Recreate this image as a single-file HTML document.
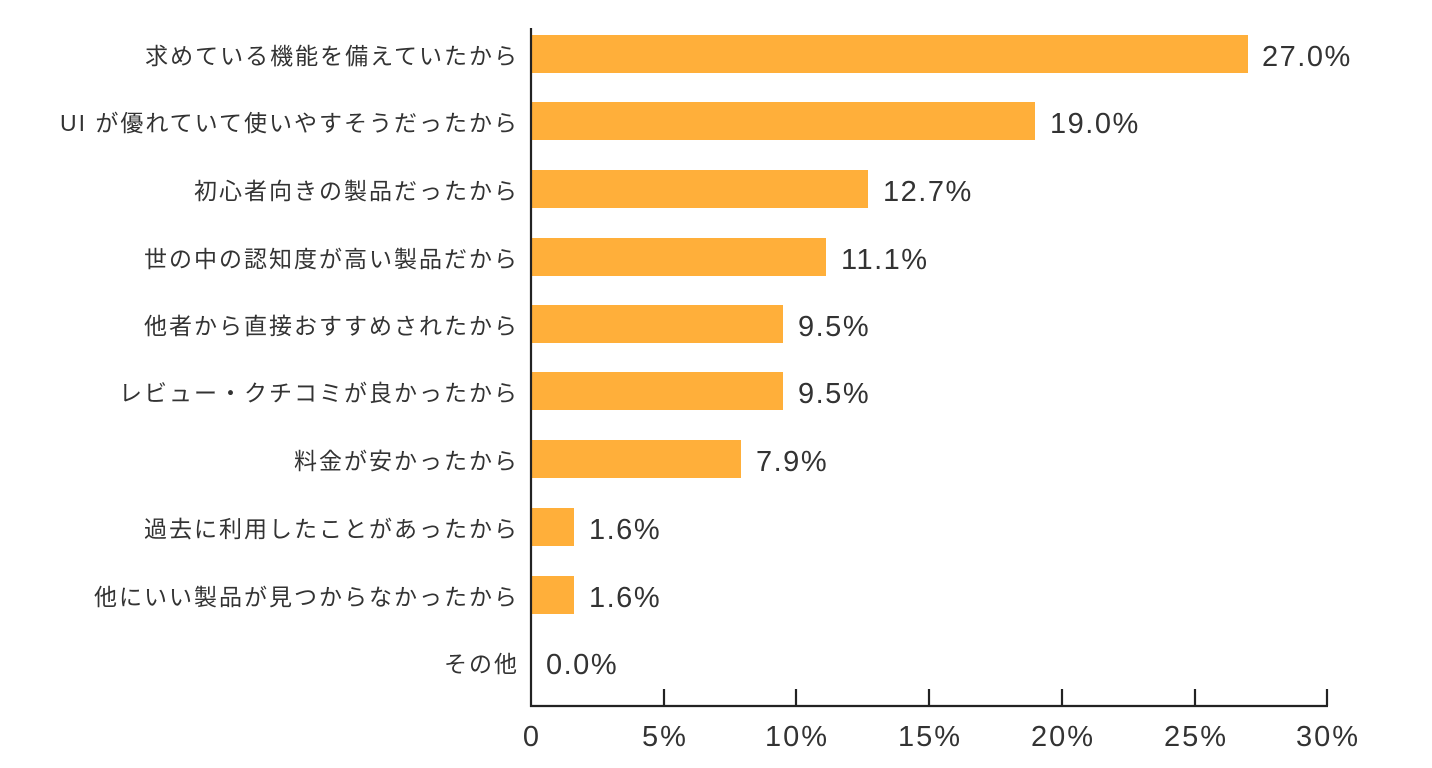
<!DOCTYPE html>
<html><head><meta charset="utf-8"><style>
html,body{margin:0;padding:0;background:#fff;}
svg{display:block;}
text{font-family:"Liberation Sans","Noto Sans CJK JP",sans-serif;fill:#333;}
</style></head><body>
<svg width="1432" height="768" viewBox="0 0 1432 768">
<g fill="#FFAF3A">
<rect x="532" y="35" width="716" height="38"/>
<rect x="532" y="102" width="503" height="38"/>
<rect x="532" y="170" width="336" height="38"/>
<rect x="532" y="238" width="294" height="38"/>
<rect x="532" y="305" width="251" height="38"/>
<rect x="532" y="372" width="251" height="38"/>
<rect x="532" y="440" width="209" height="38"/>
<rect x="532" y="508" width="42" height="38"/>
<rect x="532" y="576" width="42" height="38"/>
</g>
<g stroke="#222" stroke-width="2.2" fill="none">
<line x1="531" y1="28" x2="531" y2="707"/>
<line x1="530" y1="706" x2="1328" y2="706"/>
<line x1="664" y1="689" x2="664" y2="706"/>
<line x1="796" y1="689" x2="796" y2="706"/>
<line x1="929" y1="689" x2="929" y2="706"/>
<line x1="1062" y1="689" x2="1062" y2="706"/>
<line x1="1195" y1="689" x2="1195" y2="706"/>
<line x1="1327" y1="689" x2="1327" y2="706"/>
</g>
<g font-size="23" text-anchor="end" letter-spacing="2">
<text x="519" y="64">求めている機能を備えていたから</text>
<text x="519" y="131">UI が優れていて使いやすそうだったから</text>
<text x="519" y="199">初心者向きの製品だったから</text>
<text x="519" y="267">世の中の認知度が高い製品だから</text>
<text x="519" y="334">他者から直接おすすめされたから</text>
<text x="519" y="401">レビュー・クチコミが良かったから</text>
<text x="519" y="469">料金が安かったから</text>
<text x="519" y="537">過去に利用したことがあったから</text>
<text x="519" y="605">他にいい製品が見つからなかったから</text>
<text x="519" y="672">その他</text>
</g>
<g font-size="29" letter-spacing="1.5">
<text x="1262" y="66">27.0%</text>
<text x="1050" y="133">19.0%</text>
<text x="883" y="201">12.7%</text>
<text x="841" y="269">11.1%</text>
<text x="798" y="336">9.5%</text>
<text x="798" y="403">9.5%</text>
<text x="756" y="471">7.9%</text>
<text x="589" y="539">1.6%</text>
<text x="589" y="607">1.6%</text>
<text x="546" y="674">0.0%</text>
</g>
<g font-size="29" text-anchor="middle" letter-spacing="2">
<text x="532" y="746">0</text>
<text x="665" y="746">5%</text>
<text x="797" y="746">10%</text>
<text x="930" y="746">15%</text>
<text x="1063" y="746">20%</text>
<text x="1196" y="746">25%</text>
<text x="1328" y="746">30%</text>
</g>
</svg>
</body></html>
